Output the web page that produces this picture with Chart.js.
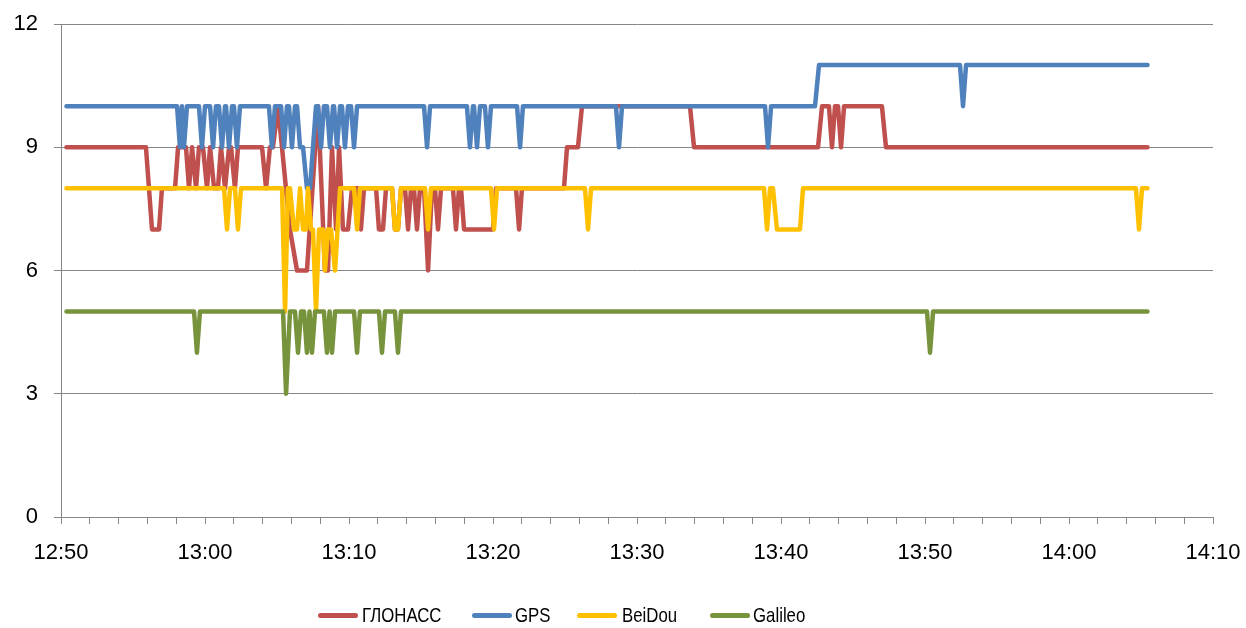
<!DOCTYPE html>
<html>
<head>
<meta charset="utf-8">
<script src="https://cdn.jsdelivr.net/npm/chart.js@4.4.1/dist/chart.umd.min.js"></script>
<style>
  html, body { margin: 0; padding: 0; background: #fff; }
  #wrap { position: relative; width: 1246px; height: 628px; }
  #legend { position: absolute; left: 0; top: 602px; width: 1246px; height: 26px; }
  .swatch { position: absolute; top: 11px; width: 40px; height: 5px; border-radius: 2.5px; }
  .label {
    position: absolute; top: 0; line-height: 26px; white-space: nowrap;
    font-family: "Liberation Sans Narrow", "Liberation Sans", Arial, sans-serif;
    font-size: 21px; color: #000;
    transform-origin: 0 50%; transform: scaleX(0.8);
  }
</style>
</head>
<body>
<div id="wrap">
  <canvas id="c" width="1246" height="628"></canvas>
  <div id="legend"></div>
</div>
<script>
// Time axis: minutes elapsed since 12:50, labelled every 10 minutes.
const timeLabels = ['12:50', '13:00', '13:10', '13:20', '13:30', '13:40', '13:50', '14:00', '14:10'];
const countTicks = [0, 3, 6, 9, 12];

const seriesNames = ['ГЛОНАСС', 'GPS', 'BeiDou', 'Galileo'];
const seriesColors = ['#C0504D', '#4F81BD', '#FFC000', '#77933C'];

// Number of satellites in use; each series is a list of (minute, count) vertices.
const glonassT = [0.38, 5.90, 6.11, 6.32, 6.81, 7.01, 7.92, 8.13, 8.68, 8.89, 9.10, 9.38, 9.58, 9.86, 10.14, 10.35,
  10.63, 10.90, 11.11, 11.39, 11.67, 11.81, 12.08, 12.29, 13.96, 14.24, 14.51, 14.72, 15.07, 15.90, 16.39, 16.81,
  17.08, 17.85, 18.33, 18.54, 18.82, 19.10, 19.31, 19.58, 19.93, 20.21, 20.63, 20.83, 21.04, 21.88, 22.08, 22.36,
  22.57, 22.99, 23.19, 23.40, 23.61, 23.89, 24.10, 24.31, 24.51, 24.72, 24.93, 25.21, 25.49, 25.76, 25.97, 26.18,
  26.39, 27.22, 27.43, 27.64, 27.78, 27.99, 30.00, 30.21, 31.60, 31.81, 32.01, 34.93, 35.14, 35.90, 36.18, 43.68,
  43.96, 52.57, 52.85, 53.33, 53.54, 53.75, 53.96, 54.17, 54.38, 57.01, 57.29, 75.45];
const glonassN = [9, 9, 8, 7, 7, 8, 8, 9, 9, 8, 9, 8, 9, 9, 8, 9,
  8, 8, 9, 8, 9, 9, 8, 9, 9, 8, 9, 9, 10, 7, 6, 6,
  6, 10, 6, 6, 9, 7, 9, 7, 7, 8, 8, 7, 8, 8, 7, 7,
  8, 8, 7, 7, 8, 8, 7, 8, 8, 7, 8, 8, 6, 8, 8, 7,
  8, 8, 7, 8, 8, 7, 7, 8, 8, 7, 8, 8, 9, 9, 10, 10,
  9, 9, 10, 10, 9, 10, 10, 9, 10, 10, 9, 9];

const gpsT = [0.38, 8.06, 8.26, 8.40, 8.54, 8.75, 9.58, 9.79, 10.00, 10.35, 10.56, 10.76, 10.97, 11.18, 11.39, 11.46,
  11.67, 11.88, 12.01, 12.22, 12.43, 14.44, 14.65, 14.86, 15.28, 15.49, 15.69, 15.83, 16.04, 16.25, 16.39, 16.60,
  16.81, 17.08, 17.29, 17.71, 17.85, 18.06, 18.26, 18.47, 18.68, 18.89, 18.96, 19.17, 19.38, 19.51, 19.72, 19.93,
  20.14, 20.35, 20.56, 25.21, 25.42, 25.63, 28.19, 28.40, 28.61, 28.68, 28.89, 29.10, 29.44, 29.65, 29.86, 31.67,
  31.88, 32.08, 38.54, 38.75, 38.96, 48.89, 49.10, 49.31, 52.36, 52.64, 62.43, 62.64, 62.85, 75.45];
const gpsN = [10, 10, 9, 10, 9, 10, 10, 9, 10, 10, 9, 10, 10, 9, 10, 10,
  9, 10, 10, 9, 10, 10, 9, 10, 10, 9, 10, 10, 9, 10, 10, 9,
  9, 8, 8, 10, 10, 9, 10, 10, 9, 10, 10, 9, 10, 10, 9, 10,
  10, 9, 10, 10, 9, 10, 10, 9, 10, 10, 9, 10, 10, 9, 10, 10,
  9, 10, 10, 9, 10, 10, 9, 10, 10, 11, 11, 10, 11, 11];

const beidouT = [0.38, 11.32, 11.53, 11.74, 12.08, 12.29, 12.50, 15.35, 15.56, 15.76, 15.90, 16.18, 16.39, 16.60, 16.81, 17.01,
  17.15, 17.36, 17.50, 17.71, 17.92, 18.19, 18.33, 18.54, 18.75, 19.03, 19.38, 20.35, 20.56, 20.76, 22.99, 23.19,
  23.40, 23.61, 25.28, 25.49, 25.69, 29.86, 30.07, 30.28, 36.39, 36.60, 36.81, 48.82, 49.03, 49.24, 49.44, 49.72,
  51.32, 51.53, 74.65, 74.86, 75.07, 75.45];
const beidouN = [8, 8, 7, 8, 8, 7, 8, 8, 5, 8, 8, 7, 7, 8, 7, 7,
  8, 7, 7, 5, 7, 7, 6, 7, 7, 6, 8, 8, 7, 8, 8, 7,
  7, 8, 8, 7, 8, 8, 7, 8, 8, 7, 8, 8, 7, 8, 8, 7,
  7, 8, 8, 7, 8, 8];

const galileoT = [0.38, 9.24, 9.44, 9.65, 15.42, 15.63, 15.90, 16.25, 16.46, 16.67, 16.88, 17.08, 17.26, 17.43, 17.64, 18.26,
  18.47, 18.65, 18.82, 19.03, 20.35, 20.56, 20.76, 22.08, 22.29, 22.50, 23.19, 23.40, 23.61, 60.14, 60.35, 60.56,
  75.45];
const galileoN = [5, 5, 4, 5, 5, 3, 5, 5, 4, 5, 5, 4, 5, 4, 5, 5,
  4, 5, 4, 5, 5, 4, 5, 5, 4, 5, 5, 4, 5, 5, 4, 5,
  5];

const seriesTimes = [glonassT, gpsT, beidouT, galileoT];
const seriesCounts = [glonassN, gpsN, beidouN, galileoN];

const axisGrey = '#868686';
const tickFont = { family: '"Liberation Sans", Arial, sans-serif', size: 22 };

const datasets = seriesNames.map((name, i) => ({
  label: name,
  data: seriesTimes[i].map((t, k) => ({ x: t, y: seriesCounts[i][k] })),
  borderColor: seriesColors[i],
  backgroundColor: seriesColors[i],
  borderWidth: 4.5,
  borderJoinStyle: 'round',
  borderCapStyle: 'round',
  pointRadius: 0,
  pointHoverRadius: 0,
  tension: 0,
  fill: false,
  // later series are painted over earlier ones
  order: seriesNames.length - i
}));

new Chart(document.getElementById('c'), {
  type: 'line',
  data: { datasets },
  options: {
    responsive: false,
    animation: false,
    events: [],
    layout: { padding: { top: 24, right: 33, left: 0, bottom: 0 } },
    plugins: { legend: { display: false }, tooltip: { enabled: false } },
    scales: {
      x: {
        type: 'linear',
        min: 0,
        max: (timeLabels.length - 1) * 10,
        afterFit: s => { s.height = 111; s.paddingLeft = 0; s.paddingRight = 0; },
        ticks: {
          stepSize: 2,
          autoSkip: false,
          maxRotation: 0,
          padding: 16,
          color: '#000',
          font: tickFont,
          callback: v => (v % 10 === 0 ? timeLabels[v / 10] : '')
        },
        grid: { drawOnChartArea: false, drawTicks: true, tickLength: 7, color: axisGrey },
        border: { color: axisGrey, width: 1 }
      },
      y: {
        min: countTicks[0],
        max: countTicks[countTicks.length - 1],
        afterFit: s => { s.width = 61; s.paddingTop = 0; s.paddingBottom = 0; },
        afterBuildTicks: s => { s.ticks = countTicks.map(v => ({ value: v })); },
        ticks: { padding: 16, color: '#000', font: tickFont },
        grid: { color: axisGrey, drawTicks: true, tickLength: 7 },
        border: { color: axisGrey, width: 1 }
      }
    }
  }
});

// Legend row under the plot: swatch and label offsets along the row
const legendSwatchX = [318, 472, 577, 710];
const legendLabelX = [362, 515, 622, 753];
const legend = document.getElementById('legend');
seriesNames.forEach((name, i) => {
  const sw = document.createElement('span');
  sw.className = 'swatch';
  sw.style.left = legendSwatchX[i] + 'px';
  sw.style.background = seriesColors[i];
  const txt = document.createElement('span');
  txt.className = 'label';
  txt.style.left = legendLabelX[i] + 'px';
  txt.textContent = name;
  legend.appendChild(sw);
  legend.appendChild(txt);
});
</script>
</body>
</html>
